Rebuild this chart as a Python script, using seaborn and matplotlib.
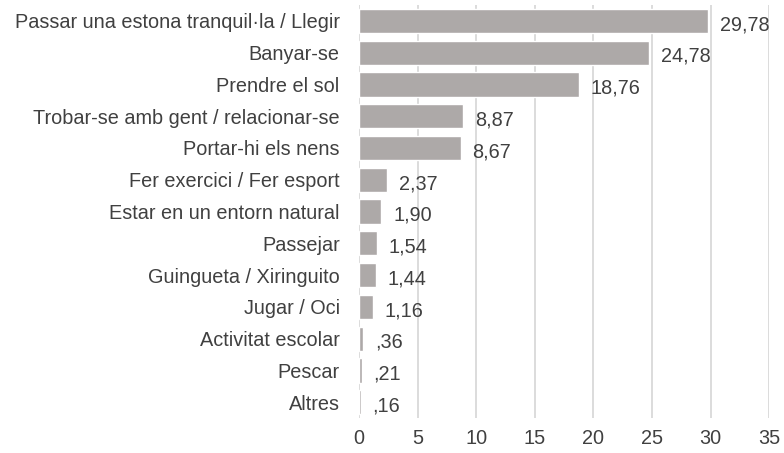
import matplotlib
matplotlib.use("Agg")
import pandas as pd
import seaborn as sns
import matplotlib.pyplot as plt

categories = [
    "Passar una estona tranquil·la / Llegir",
    "Banyar-se",
    "Prendre el sol",
    "Trobar-se amb gent / relacionar-se",
    "Portar-hi els nens",
    "Fer exercici / Fer esport",
    "Estar en un entorn natural",
    "Passejar",
    "Guingueta / Xiringuito",
    "Jugar / Oci",
    "Activitat escolar",
    "Pescar",
    "Altres",
]
values = [29.78, 24.78, 18.76, 8.87, 8.67, 2.37, 1.90, 1.54, 1.44, 1.16, 0.36, 0.21, 0.16]
xticks = [0, 5, 10, 15, 20, 25, 30, 35]

df = pd.DataFrame({"cat": categories, "val": values})

sns.set_theme(style="white")
plt.rcParams["font.family"] = ["Liberation Sans", "DejaVu Sans"]

fig = plt.figure(figsize=(7.84, 4.53), dpi=100)
ax = fig.add_axes([0.458, 0.077, 0.523, 0.912])

sns.barplot(data=df, x="val", y="cat", color="#ADA9A8", saturation=1,
            width=0.76, ax=ax)


def fmt(v):
    # comma decimal, no leading zero (",36")
    s = "{:.2f}".format(v).replace(".", ",")
    if s.startswith("0"):
        s = s[1:]
    return s


for i, v in enumerate(values):
    ax.text(v + 1.0, i + 0.12, fmt(v), va="center", ha="left",
            fontsize=14.3, color="#404040")

ax.set_xlim(0, 35)
ax.set_ylim(12.5, -0.5)
ax.set_xticks(xticks)
ax.xaxis.grid(True, color="#D9D9D9", linewidth=1.3)
ax.set_axisbelow(True)
for s in ax.spines.values():
    s.set_visible(False)
ax.set_xlabel("")
ax.set_ylabel("")
ax.tick_params(axis="both", length=0, labelsize=14.3, colors="#404040")
ax.tick_params(axis="x", pad=8)
ax.tick_params(axis="y", pad=14)

fig.savefig("out.png", dpi=100)
